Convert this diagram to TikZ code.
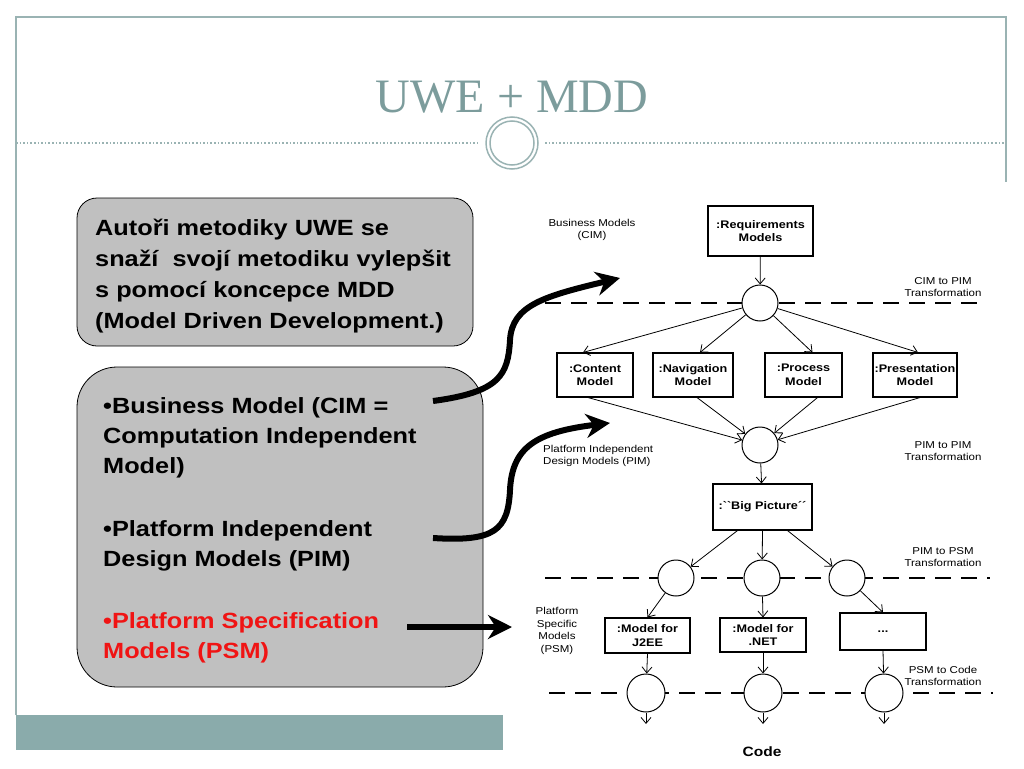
\documentclass[tikz,border=0pt]{standalone}
\usepackage{fontspec}
\setmainfont[FakeStretch=1.15]{Liberation Sans}
\newfontfamily\titlefont{Liberation Serif}
\newfontfamily\plainfont[FakeStretch=1.15,Ligatures=ResetAll]{Liberation Sans}
\usetikzlibrary{arrows.meta}
\definecolor{framec}{HTML}{9AB3B3}
\definecolor{titlec}{HTML}{7C9C9C}
\definecolor{bandc}{HTML}{8AABAB}
\definecolor{boxgray}{HTML}{C0C0C0}
\definecolor{redt}{HTML}{F01414}
\begin{document}
\begin{tikzpicture}[x=1pt,y=-1pt,
  mbox/.style={draw, line width=1.1pt, fill=white, align=center, inner sep=0pt,
    font=\fontsize{11}{13.5}\selectfont\bfseries},
  trans/.style={circle, draw, line width=1pt, fill=white, minimum size=36pt, inner sep=0pt},
  lab/.style={font=\fontsize{10}{12.5}\selectfont, align=center, inner sep=0pt},
  flow/.style={-{Straight Barb[length=6pt,width=10pt]}, line width=0.8pt},
  sepline/.style={dash pattern=on 16pt off 10pt, line width=2.2pt},
  bigarrow/.style={line width=6pt, -{Stealth[length=24pt,width=24pt]}},
  btext/.style={font=\fontsize{22}{26}\selectfont\bfseries, anchor=base west, inner sep=0pt},
  framel/.style={draw=framec, line width=1.4pt}
]
\useasboundingbox (0,0) rectangle (1024,768);
% frame
\draw[framel] (16,715) -- (16,17) -- (1006,17) -- (1006,182);
\draw[draw=framec, line width=1.6pt, dotted] (16,143) -- (479,143);
\draw[draw=framec, line width=1.6pt, dotted] (545,143) -- (1006,143);
\node[circle, draw=framec, line width=1.5pt, minimum size=52pt, inner sep=0pt] (ring) at (512,143) {};
\node[circle, draw=framec, line width=1.5pt, minimum size=44pt, inner sep=0pt] (ringin) at (512,143) {};
\node[font=\titlefont\fontsize{48}{50}\selectfont, text=titlec, inner sep=0pt] (title) at (512,97) {UWE + MDD};
\fill[bandc] (16,715) rectangle (503,750);

% left boxes
\path[draw=black, line width=0.8pt, fill=boxgray, rounded corners=20pt] (77,198) rectangle (473,346);
\path[draw=black, line width=0.8pt, fill=boxgray, rounded corners=40pt] (77,367) rectangle (483,687);
\node[btext] (t1) at (95,235) {Autoři metodiky UWE se};
\node[btext] (t2) at (95,266) {snaží\ \ svojí metodiku vylepšit};
\node[btext] (t3) at (95,297) {s pomocí koncepce MDD};
\node[btext] (t4) at (95,328) {(Model Driven Development.)};
\node[btext] (u1) at (103,413) {•Business Model (CIM =};
\node[btext] (u2) at (103,443) {Computation Independent};
\node[btext] (u3) at (103,473) {Model)};
\node[btext] (u4) at (103,536) {•Platform Independent};
\node[btext] (u5) at (103,566) {Design Models (PIM)};
\node[btext, text=redt] (u6) at (103,628) {•Platform Specification};
\node[btext, text=redt] (u7) at (103,658) {Models (PSM)};

% separators
\draw[sepline] (545,303) -- (980,303);
\draw[sepline] (545,578) -- (990,578);
\draw[sepline] (549,693) -- (993,693);

% boxes
\node[mbox, minimum width=105pt, minimum height=50pt] (req) at (760.5,231) {:Requirements\\Models};
\node[mbox, minimum width=76pt, minimum height=44pt] (cont) at (595,375) {:Content\\Model};
\node[mbox, minimum width=80pt, minimum height=44pt] (nav) at (693,375) {:Navigation\\Model};
\node[mbox, minimum width=77pt, minimum height=44pt] (proc) at (803.5,375) {:Process\\Model};
\node[mbox, minimum width=84pt, minimum height=44pt] (pres) at (915,375) {:Presentation\\Model};
\node[mbox, minimum width=99pt, minimum height=46pt] (big) at (762.5,507) {\plainfont\bfseries :``Big Picture´´};
\node[mbox, minimum width=85pt, minimum height=35pt] (j2ee) at (647.5,635.5) {:Model for\\J2EE};
\node[mbox, minimum width=86pt, minimum height=34pt] (net) at (763,635) {:Model for\\.NET};
\node[mbox, minimum width=86pt, minimum height=37pt] (dots) at (883,631.5) {...};

% circles
\node[trans] (c1) at (760,303) {};
\node[trans] (c2) at (760,445) {};
\node[trans] (c3a) at (676,578) {};
\node[trans] (c3b) at (762,578) {};
\node[trans] (c3c) at (847,578) {};
\node[trans, minimum size=38pt] (c4a) at (646,693) {};
\node[trans, minimum size=38pt] (c4b) at (763,693) {};
\node[trans, minimum size=38pt] (c4c) at (884,693) {};
\coordinate (e1) at (646,724);
\coordinate (e2) at (763,724);
\coordinate (e3) at (884,724);

% flows
\draw[flow] (req) -- (c1);
\draw[flow] (c1) -- ([xshift=-12pt]cont.north);
\draw[flow] (c1) -- ([xshift=7pt]nav.north);
\draw[flow] (c1) -- ([xshift=9pt]proc.north);
\draw[flow] (c1) -- ([xshift=3pt]pres.north);
\draw[flow] ([xshift=-7pt]cont.south) -- (c2);
\draw[flow] ([xshift=4pt]nav.south) -- (c2);
\draw[flow] ([xshift=14pt]proc.south) -- (c2);
\draw[flow] ([xshift=5pt]pres.south) -- (c2);
\draw[flow] (c2) -- (big);
\draw[flow] ([xshift=-25pt]big.south) -- (c3a);
\draw[flow] (big.south) -- (c3b);
\draw[flow] ([xshift=25pt]big.south) -- (c3c);
\draw[flow] (c3a) -- (j2ee.north);
\draw[flow] (c3b) -- (net.north);
\draw[flow] (c3c) -- (dots.north);
\draw[flow] (j2ee.south) -- (c4a);
\draw[flow] (net.south) -- (c4b);
\draw[flow] (dots.south) -- (c4c);
\draw[flow] (c4a) -- (e1);
\draw[flow] (c4b) -- (e2);
\draw[flow] (c4c) -- (e3);

% labels
\node[lab] (l1) at (592,230) {Business Models\\(CIM)};
\node[lab] (l2) at (943,287) {CIM to PIM\\Transformation};
\node[lab, align=left, anchor=west] (l3) at (543,456) {Platform Independent\\Design Models (PIM)};
\node[lab] (l4) at (943,451) {PIM to PIM\\Transformation};
\node[lab] (l5) at (943,557) {PIM to PSM\\Transformation};
\node[lab] (l6) at (557,631) {Platform\\Specific\\Models\\(PSM)};
\node[lab] (l7) at (943,676) {PSM to Code\\Transformation};
\node[font=\fontsize{13.5}{15}\selectfont\bfseries, inner sep=0pt] (code) at (762,752) {Code};

% big arrows
\coordinate (a1s) at (433,401);
\coordinate (a1e) at (620,278);
\coordinate (a2s) at (433,538);
\coordinate (a2e) at (610,423);
\coordinate (a3s) at (407,627);
\coordinate (a3e) at (512,627);
\draw[bigarrow] (a1s) .. controls (500,392) and (508,375) .. (510,340) .. controls (512,305) and (545,296) .. (a1e);
\draw[bigarrow] (a2s) .. controls (495,542) and (508,530) .. (510,490) .. controls (512,448) and (535,432) .. (a2e);
\draw[bigarrow] (a3s) -- (a3e);
\end{tikzpicture}
\end{document}
